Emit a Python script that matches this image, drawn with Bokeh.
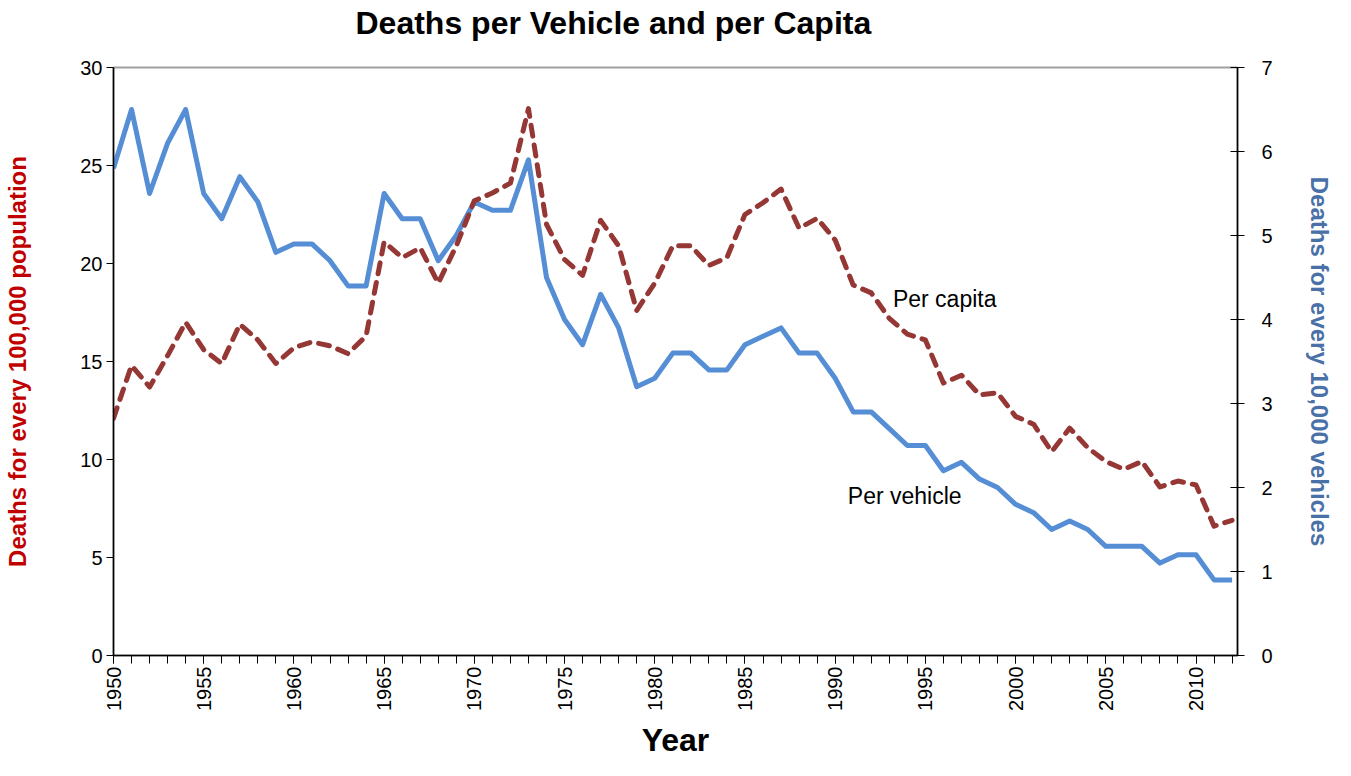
import math
from bokeh.plotting import figure
from bokeh.models import Range1d, LinearAxis, FixedTicker, Title, ColumnDataSource
from bokeh.core.properties import value
from bokeh.embed import file_html
from bokeh.resources import INLINE

years = list(range(1950, 2013))
per_capita = [12.1, 14.8, 13.7, 15.3, 17.0, 15.6, 14.9, 16.9, 16.1, 14.9,
              15.7, 16.0, 15.8, 15.4, 16.3, 21.1, 20.3, 20.8, 19.0, 20.9,
              23.2, 23.6, 24.1, 27.9, 22.0, 20.2, 19.4, 22.2, 20.9, 17.6,
              19.0, 20.9, 20.9, 19.9, 20.3, 22.5, 23.1, 23.8, 21.8, 22.3,
              21.2, 18.9, 18.5, 17.2, 16.4, 16.1, 13.9, 14.3, 13.3, 13.4,
              12.2, 11.8, 10.4, 11.6, 10.6, 9.9, 9.5, 9.9, 8.6, 8.9,
              8.7, 6.6, 6.9]
per_vehicle = [5.8, 6.5, 5.5, 6.1, 6.5, 5.5, 5.2, 5.7, 5.4, 4.8,
               4.9, 4.9, 4.7, 4.4, 4.4, 5.5, 5.2, 5.2, 4.7, 5.0,
               5.4, 5.3, 5.3, 5.9, 4.5, 4.0, 3.7, 4.3, 3.9, 3.2,
               3.3, 3.6, 3.6, 3.4, 3.4, 3.7, 3.8, 3.9, 3.6, 3.6,
               3.3, 2.9, 2.9, 2.7, 2.5, 2.5, 2.2, 2.3, 2.1, 2.0,
               1.8, 1.7, 1.5, 1.6, 1.5, 1.3, 1.3, 1.3, 1.1, 1.2,
               1.2, 0.9, 0.9]
major_years = list(range(1950, 2011, 5))
left_ticks = [0, 5, 10, 15, 20, 25, 30]
right_ticks = [0, 1, 2, 3, 4, 5, 6, 7]

title_text = "Deaths per Vehicle and per Capita"
x_title = "Year"
left_title = "Deaths for every 100,000 population"
right_title = "Deaths for every 10,000 vehicles"
label_capita = "Per capita"
label_vehicle = "Per vehicle"

FONT = "Liberation Sans"

src = ColumnDataSource(dict(year=years, capita=per_capita, vehicle=per_vehicle))

p = figure(width=1335, height=760, output_backend="svg", toolbar_location=None,
           x_range=Range1d(1950, 2012.3), y_range=Range1d(0, 30),
           min_border_left=113, min_border_right=97,
           min_border_top=67, min_border_bottom=105)
p.extra_y_ranges = {"veh": Range1d(0, 7)}

p.title = Title(text=title_text, align="left", offset=242, standoff=4,
                text_font=FONT, text_font_size="32px", text_font_style="bold",
                text_color="black")
# empty spacer between the title and the plot frame
p.add_layout(Title(text=" ", text_font_size="1px", standoff=22), "above")

p.xgrid.visible = False
p.ygrid.visible = False
p.outline_line_color = "#a0a0a0"
p.outline_line_width = 2
p.background_fill_color = "white"
p.border_fill_color = "white"

# x axis
xa = p.xaxis[0]
xa.ticker = FixedTicker(ticks=major_years, minor_ticks=years)
xa.major_label_orientation = math.pi / 2
xa.major_label_text_font = FONT
xa.major_label_text_font_size = "20px"
xa.major_label_text_color = "black"
xa.major_tick_out = 8
xa.major_tick_in = 0
xa.minor_tick_out = 8
xa.minor_tick_in = 0
xa.major_tick_line_color = "black"
xa.minor_tick_line_color = "black"
xa.axis_line_color = "black"
xa.axis_line_width = 1.5
xa.major_label_standoff = 3
xa.axis_label = x_title
xa.axis_label_text_font = FONT
xa.axis_label_text_font_size = "32px"
xa.axis_label_text_font_style = "bold"
xa.axis_label_text_color = "black"
xa.axis_label_standoff = 8

# left axis
ya = p.yaxis[0]
ya.ticker = FixedTicker(ticks=left_ticks)
ya.minor_tick_line_color = None
ya.major_tick_out = 7
ya.major_tick_in = 0
ya.major_tick_line_color = "black"
ya.axis_line_color = "black"
ya.axis_line_width = 1.5
ya.major_label_text_font = FONT
ya.major_label_text_font_size = "20px"
ya.major_label_text_color = "black"
ya.major_label_standoff = 4
ya.axis_label = left_title
ya.axis_label_text_font = FONT
ya.axis_label_text_font_size = "24px"
ya.axis_label_text_font_style = "bold"
ya.axis_label_text_color = "#c00000"
ya.axis_label_standoff = 46

# right axis
ra = LinearAxis(y_range_name="veh", ticker=FixedTicker(ticks=right_ticks))
ra.minor_tick_line_color = None
ra.major_tick_out = 7
ra.major_tick_in = 7
ra.major_tick_line_color = "black"
ra.axis_line_color = "black"
ra.axis_line_width = 1.5
ra.major_label_text_font = FONT
ra.major_label_text_font_size = "20px"
ra.major_label_text_color = "black"
ra.major_label_standoff = 17
ra.axis_label = right_title
ra.axis_label_text_font = FONT
ra.axis_label_text_font_size = "24px"
ra.axis_label_text_font_style = "bold"
ra.axis_label_text_color = "#4a70a8"
ra.axis_label_standoff = 30
p.add_layout(ra, "right")

p.line("year", "vehicle", source=src, y_range_name="veh", line_color="#558ed5",
       line_width=5, line_join="round")
p.line("year", "capita", source=src, line_color="#953735", line_width=5,
       line_dash="11 9", line_cap="round", line_join="round")

p.text(x=[1993.2], y=[18.2], text=[label_capita], text_font=value(FONT),
       text_font_size="23px", text_baseline="middle", text_align="left",
       text_color="black")
p.text(x=[1990.7], y=[8.15], text=[label_vehicle], text_font=value(FONT),
       text_font_size="23px", text_baseline="middle", text_align="left",
       text_color="black")

open("out.html", "w").write(file_html(p, INLINE))
